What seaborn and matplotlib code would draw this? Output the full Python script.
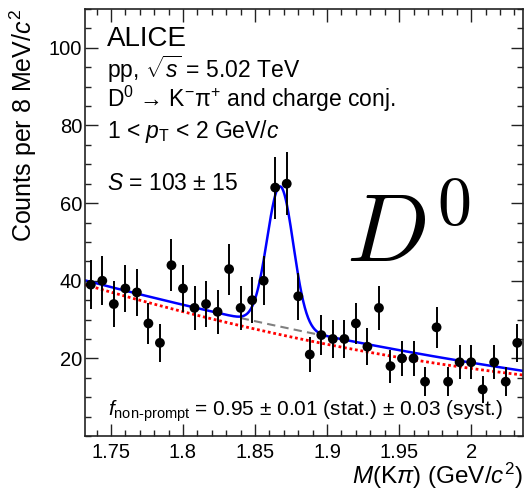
import numpy as np
import pandas as pd
import matplotlib
matplotlib.use('Agg')
import matplotlib.pyplot as plt
from matplotlib.ticker import MultipleLocator
import seaborn as sns

# D0 invariant-mass histogram, 8 MeV bins
BIN_WIDTH = 0.008
FIRST_BIN = 1.736
counts = [39, 40, 34, 38, 37, 29, 24, 44, 38, 33, 34, 32, 43, 33, 35, 40, 64, 65, 36,
          21, 26, 25, 25, 29, 23, 33, 18, 20, 20, 14, 28, 14, 19, 19, 12, 19, 14, 24]

# fit results
sig_mean = 1.8675
sig_sigma = 0.0091
sig_yield = 103
bkg_ref = 1.732
bkg_total = [40.1, -97.1, 67.1]     # quadratic in (m - bkg_ref)
bkg_red = [39.0, -110.0, 109.8]
gap_lo, gap_hi = 1.84, 1.90

x_range = (1.732, 2.036)
y_range = (0, 110)
xticks = [1.75, 1.8, 1.85, 1.9, 1.95, 2.0]
xtick_labels = ['1.75', '1.8', '1.85', '1.9', '1.95', '2']
yticks = [20, 40, 60, 80, 100]


def bkg(m, c):
    t = m - bkg_ref
    return c[0] + c[1] * t + c[2] * t ** 2


def gaus(m):
    amp = sig_yield * BIN_WIDTH / (sig_sigma * np.sqrt(2 * np.pi))
    return amp * np.exp(-0.5 * ((m - sig_mean) / sig_sigma) ** 2)


sns.set_style('ticks')
plt.rcParams['font.family'] = ['Liberation Sans', 'DejaVu Sans']
plt.rcParams['mathtext.fontset'] = 'custom'
plt.rcParams['mathtext.rm'] = 'Liberation Sans'
plt.rcParams['mathtext.it'] = 'Liberation Sans:italic'
plt.rcParams['mathtext.bf'] = 'Liberation Sans:bold'
plt.rcParams['text.color'] = 'black'
plt.rcParams['axes.labelcolor'] = 'black'

data = pd.DataFrame({'mass': FIRST_BIN + BIN_WIDTH * np.arange(len(counts)),
                     'counts': counts})
data['err'] = np.sqrt(data['counts'])

m = np.linspace(x_range[0], x_range[1], 800)
curves = pd.DataFrame({'m': m,
                       'total': bkg(m, bkg_total) + gaus(m),
                       'red': bkg(m, bkg_red)})
gap = curves[(curves['m'] >= gap_lo) & (curves['m'] <= gap_hi)].copy()
gap['bkg'] = bkg(gap['m'], bkg_total)

fig = plt.figure(figsize=(5.29, 4.93), dpi=100)
ax = fig.add_axes([0.1607, 0.1156, 0.828, 0.8661])

sns.lineplot(data=curves, x='m', y='red', color='#ff0000', lw=2.0,
             linestyle=(0, (1, 1)), ax=ax)
sns.lineplot(data=gap, x='m', y='bkg', color='#808080', lw=1.5,
             linestyle=(0, (4, 2.5)), ax=ax)
sns.lineplot(data=curves, x='m', y='total', color='#0000ff', lw=1.8, ax=ax)

ax.errorbar(data['mass'], data['counts'], yerr=data['err'], fmt='none',
            ecolor='black', elinewidth=1.4, capsize=0, zorder=4)
sns.scatterplot(data=data, x='mass', y='counts', color='black', marker='o',
                s=50, edgecolor='none', zorder=5, ax=ax)

ax.set_xlim(*x_range)
ax.set_ylim(*y_range)
ax.set_xticks(xticks)
ax.set_xticklabels(xtick_labels)
ax.set_yticks(yticks)
ax.xaxis.set_minor_locator(MultipleLocator(0.01))
ax.yaxis.set_minor_locator(MultipleLocator(5))
ax.tick_params(which='both', direction='in', top=True, right=True,
               width=1.0, colors='#222222', labelcolor='black')
ax.tick_params(which='major', length=9, labelsize=14.5)
ax.tick_params(axis='x', which='major', pad=5)
ax.tick_params(axis='y', which='major', pad=2)
ax.tick_params(which='minor', length=4.5)
for s in ax.spines.values():
    s.set_linewidth(1.2)
    s.set_color('#222222')

ax.set_xlabel(r'$M$(K$\pi$) (GeV/$c^2$)', fontsize=17.5, loc='right', labelpad=-1)
ax.set_ylabel(r'Counts per 8 MeV/$c^2$', fontsize=18, loc='top', labelpad=7)

tx = 0.050
ax.text(tx, 0.913, 'ALICE', fontsize=20, transform=ax.transAxes, va='baseline')
ax.text(tx, 0.838, r'pp, $\sqrt{s}$ = 5.02 TeV', fontsize=16.5,
        transform=ax.transAxes, va='baseline')
ax.text(tx, 0.770, r'D$^0$ → K$^{-}$π$^{+}$ and charge conj.', fontsize=16.5,
        transform=ax.transAxes, va='baseline')
ax.text(tx, 0.698, r'1 < $p_{\mathrm{T}}$ < 2 GeV/$c$', fontsize=16.5,
        transform=ax.transAxes, va='baseline')
ax.text(tx, 0.576, r'$S$ = 103 ± 15', fontsize=16.5,
        transform=ax.transAxes, va='baseline')
ax.text(0.0525, 0.047, r'$f_{\mathrm{non\text{-}prompt}}$ = 0.95 ± 0.01 (stat.) ± 0.03 (syst.)',
        fontsize=15, transform=ax.transAxes, va='baseline')
ax.text(0.596, 0.4075, r'$D^0$', fontsize=70, math_fontfamily='cm',
        transform=ax.transAxes, va='baseline')

fig.savefig('out.png', dpi=100)
